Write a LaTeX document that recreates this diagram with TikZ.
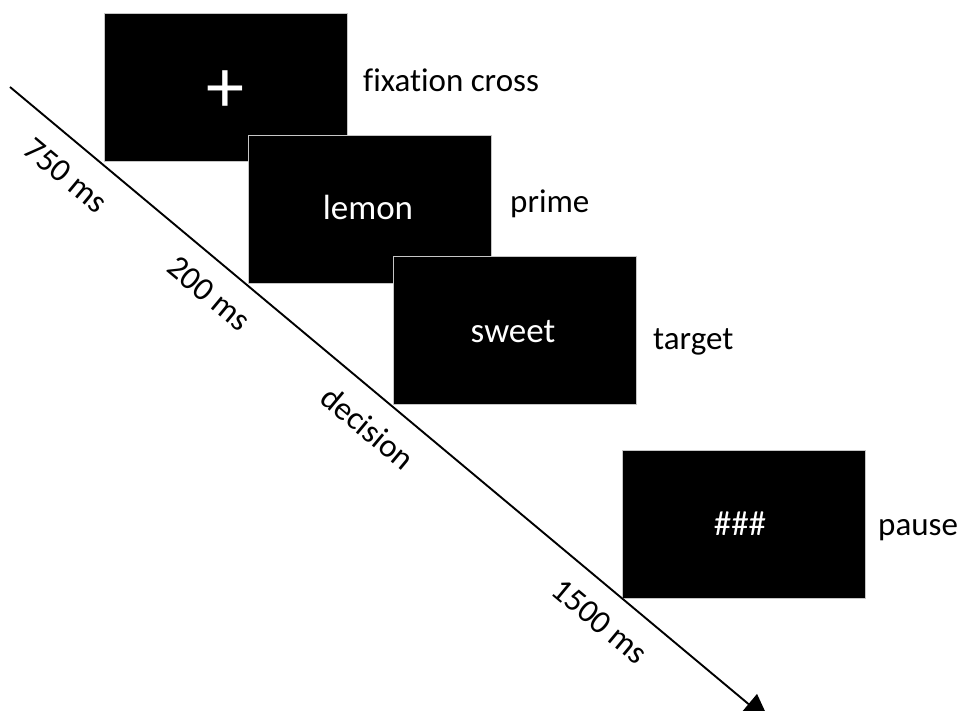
\documentclass[tikz,border=0pt]{standalone}
\usepackage{fontspec}
\setmainfont[Ligatures=NoCommon]{Carlito}
\usetikzlibrary{calc,arrows.meta}
\begin{document}
\begin{tikzpicture}[x=1pt,y=1pt,
  screen/.style={fill=black,draw=gray!45,line width=0.6pt,minimum width=243pt,minimum height=148pt,inner sep=0pt},
  scrtext/.style={text=white,inner sep=0pt,font=\fontsize{35}{40}\selectfont},
  steplabel/.style={text=black,inner sep=0pt,anchor=base west,font=\fontsize{33}{38}\selectfont},
  ticklabel/.style={text=black,inner sep=0pt,rotate=-39.84,font=\fontsize{33}{38}\selectfont},
  timeline/.style={line width=1.9pt,-{Triangle[width=26pt,length=28pt]}}
]
\useasboundingbox (0,0) rectangle (965,710);
\clip (0,0) rectangle (965,710);
% screens
\node[screen] (s1) at (225.5,622.5) {};
\node[screen] (s2) at (369.5,500.5) {};
\node[screen] (s3) at (515,379.5) {};
\node[screen] (s4) at (743.5,186) {};
% screen contents
\node[scrtext,font=\fontsize{76}{80}\selectfont] (t1) at (225,618) {+};
\node[scrtext,anchor=base] (t2) at (368,490) {lemon};
\node[scrtext,anchor=base] (t3) at (513,367) {sweet};
\node[scrtext,anchor=base] (t4) at (740,175) {\#\#\#};
% labels
\node[steplabel] (l1) at (363,618) {fixation cross};
\node[steplabel] (l2) at (510,497) {prime};
\node[steplabel] (l3) at (653,360) {target};
\node[steplabel] (l4) at (878,175) {pause};
% time line
\coordinate (S) at (10,623);
\coordinate (E) at (770,-12);
\draw[timeline] (S) -- (E);
\node[ticklabel] (d1) at ($(S)!0.1004!(E)!32pt!-90:(E)$) {750 ms};
\node[ticklabel] (d2) at ($(S)!0.288!(E)!31pt!-90:(E)$) {200 ms};
\node[ticklabel] (d3) at ($(S)!0.498!(E)!32pt!-90:(E)$) {decision};
\node[ticklabel] (d4) at ($(S)!0.803!(E)!32pt!-90:(E)$) {1500 ms};
\end{tikzpicture}
\end{document}
